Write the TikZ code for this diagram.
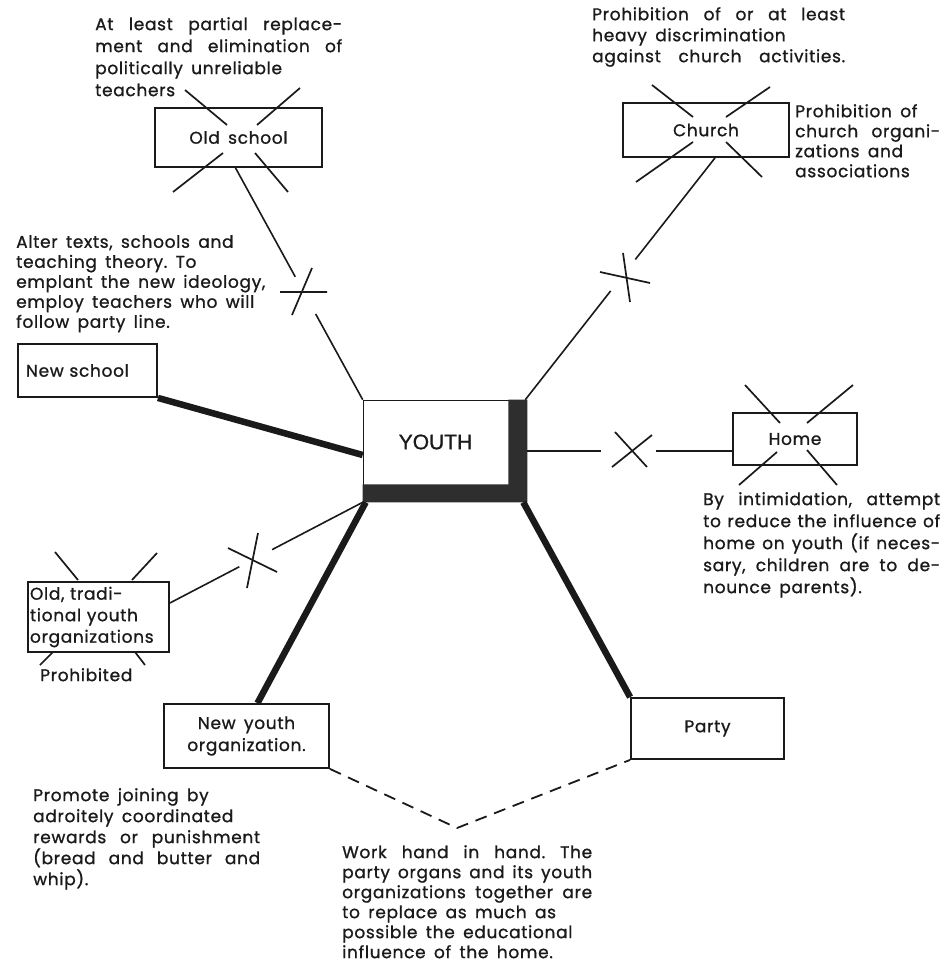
\documentclass[tikz,border=0pt]{standalone}
\usepackage{fontspec}
\setmainfont{Poppins}[LetterSpace=4, WordSpace=1.6, FakeBold=1]
\newfontfamily\youthfont{Liberation Sans}[FakeBold=1]
\usetikzlibrary{calc}
\definecolor{ink}{HTML}{1A1A1A}
\definecolor{band}{HTML}{2E2E2E}
\newcommand\jl[2]{\makebox[#1pt][s]{#2}}
\frenchspacing
\begin{document}
\frenchspacing
\begin{tikzpicture}[x=1pt,y=-1pt,
  every node/.style={text=ink},
  box/.style={draw=ink, line width=1.8pt, inner sep=0pt, align=center,
    font=\fontsize{17}{21}\selectfont},
  para/.style={inner sep=0pt, anchor=north west, align=left},
  conn/.style={draw=ink, line width=1.6pt},
  heavy/.style={draw=ink, line width=6.5pt},
  cross/.style={draw=ink, line width=1.7pt},
  dashline/.style={draw=ink, line width=1.8pt, dash pattern=on 12pt off 8pt}]
\fill[white] (0,0) rectangle (942,971);
\useasboundingbox (0,0) rectangle (942,971);

% boxes
\node[box, minimum width=167pt, minimum height=59pt] (oldschool) at (238.5,137.5) {Old school};
\node[box, minimum width=166pt, minimum height=54pt] (church) at (706,130) {Church};
\node[box, minimum height=53pt, text width=123pt, inner xsep=8pt, align=left] (newschool) at (87.5,370.5) {New school};
\node[draw=ink, line width=1.6pt, minimum width=163pt, minimum height=101pt, inner sep=0pt] (youth) at (445,451) {};
\node[box, minimum width=124pt, minimum height=52pt] (home) at (795,439) {Home};
\node[box, minimum width=141pt, minimum height=70pt, text width=137pt, inner xsep=2pt, align=left,
  font=\fontsize{17}{21.5}\selectfont] (oldtrad) at (98.5,617) {Old, tradi-\\\jl{134}{tional youth}\\organizations};
\node[box, minimum width=165pt, minimum height=64pt, font=\fontsize{17}{22}\selectfont] (newyouth) at (246.5,736) {New youth\\organization.};
\node[box, minimum width=153pt, minimum height=61pt] (party) at (707.5,728.5) {Party};

% YOUTH heavy band
\fill[band] (youth.north east) -- (youth.south east) -- (youth.south west)
  -- ($(youth.south west)+(0,-18)$) -- ($(youth.south east)+(-19,-18)$)
  -- ($(youth.north east)+(-19,0)$) -- cycle;
\node[font=\youthfont\fontsize{21}{24}\selectfont] (youthlabel) at ($(youth.center)+(-9.5,-9)$) {YOUTH};

% connectors
\coordinate (osA) at ($(oldschool.south)+(-3,0)$);
\draw[conn] (osA) -- ($(osA)!0.47!(youth.north west)$);
\draw[conn] ($(osA)!0.63!(youth.north west)$) -- (youth.north west);

\coordinate (chA) at ($(church.south)+(9,0)$);
\coordinate (chB) at ($(youth.north east)+(-2,0)$);
\draw[conn] (chA) -- ($(chA)!0.42!(chB)$);
\draw[conn] ($(chA)!0.55!(chB)$) -- (chB);

\coordinate (hoB) at (youth.east -| home.west);
\draw[conn] (youth.east) -- ($(youth.east)!0.36!(hoB)$);
\draw[conn] ($(youth.east)!0.63!(hoB)$) -- (hoB);

\coordinate (otA) at ($(oldtrad.east)+(0,-14)$);
\draw[conn] (otA) -- ($(otA)!0.36!(youth.south west)$);
\draw[conn] ($(otA)!0.53!(youth.south west)$) -- (youth.south west);

\draw[heavy] (newschool.south east) -- ($(youth.west)+(0,4)$);
\draw[heavy] ($(youth.south west)+(3,0)$) -- ($(newyouth.north)+(11,0)$);
\draw[heavy] ($(youth.south east)+(-4,0)$) -- (party.north west);

\coordinate (vtx) at (457,828);
\draw[dashline] (newyouth.south east) -- (vtx) -- (party.south west);

% crosses on connectors
\draw[cross] (280,292) -- (327,292) (312,268) -- (292,315);
\draw[cross] (600,272) -- (650,283) (623,253) -- (630,302);
\draw[cross] (612,467) -- (652,435) (615,432) -- (647,467);
\draw[cross] (228,548) -- (277,572) (258,533) -- (247,588);

% crosses over boxes
\draw[cross] (185,90) -- (227,125) (300,88) -- (257,125) (223,153) -- (173,192) (255,153) -- (288,192);
\draw[cross] (652,85) -- (693,117) (770,87) -- (726,117) (693,142) -- (636,182) (726,142) -- (762,177);
\draw[cross] (745,385) -- (780,423) (853,385) -- (807,423) (777,452) -- (739,485) (807,450) -- (837,485);
\draw[cross] (55,552) -- (78,580) (157,553) -- (132,580) (53,652) -- (40,665) (135,652) -- (145,665);

% texts
\node[para, font=\fontsize{17}{22}\selectfont] (t1) at (95,17) {\jl{247}{At least partial replace-}\\\jl{247}{ment and elimination of}\\politically unreliable\\teachers};
\node[para, font=\fontsize{17}{21}\selectfont] (t2) at (592,7) {\jl{253}{Prohibition of or at least}\\heavy discrimination\\\jl{253}{against church activities.}};
\node[para, font=\fontsize{17}{20}\selectfont] (t3) at (795,104) {Prohibition of\\\jl{145}{church organi-}\\zations and\\associations};
\node[para, font=\fontsize{17}{20}\selectfont] (t4) at (16,235) {Alter texts, schools and\\teaching theory. To\\emplant the new ideology,\\employ teachers who will\\follow party line.};
\node[para, font=\fontsize{17}{22}\selectfont] (t5) at (703,492) {\jl{237}{By intimidation, attempt}\\\jl{237}{to reduce the influence of}\\\jl{237}{home on youth (if neces-}\\\jl{237}{sary, children are to de-}\\nounce parents).};
\node[para, font=\fontsize{17}{21}\selectfont] (t6) at (33,788) {Promote joining by\\adroitely coordinated\\\jl{227}{rewards or punishment}\\\jl{227}{(bread and butter and}\\whip).};
\node[para, font=\fontsize{17}{20}\selectfont] (t7) at (342,845) {\jl{250}{Work hand in hand. The}\\\jl{250}{party organs and its youth}\\\jl{250}{organizations together are}\\to replace as much as\\possible the educational\\influence of the home.};
\node[para, font=\fontsize{17}{20}\selectfont] (t8) at (40,668) {Prohibited};
\end{tikzpicture}
\end{document}
